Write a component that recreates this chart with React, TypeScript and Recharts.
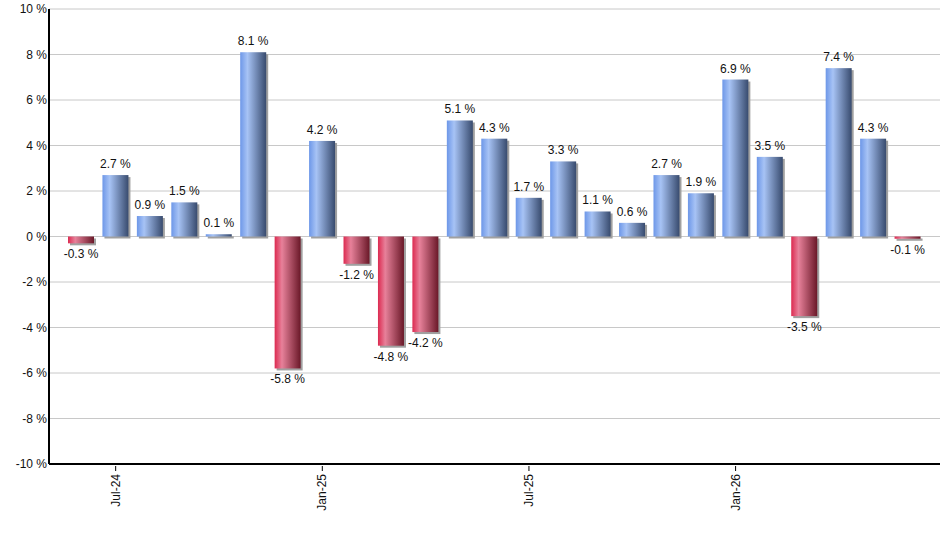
import { Bar, BarChart, CartesianGrid, LabelList, XAxis, YAxis } from 'recharts';

const months = [
    'Jun-24', 'Jul-24', 'Aug-24', 'Sep-24', 'Oct-24', 'Nov-24', 'Dec-24',
    'Jan-25', 'Feb-25', 'Mar-25', 'Apr-25', 'May-25', 'Jun-25', 'Jul-25',
    'Aug-25', 'Sep-25', 'Oct-25', 'Nov-25', 'Dec-25', 'Jan-26', 'Feb-26',
    'Mar-26', 'Apr-26', 'May-26', 'Jun-26',
];

const returns = [
    -0.3, 2.7, 0.9, 1.5, 0.1, 8.1, -5.8, 4.2, -1.2, -4.8, -4.2, 5.1, 4.3,
    1.7, 3.3, 1.1, 0.6, 2.7, 1.9, 6.9, 3.5, -3.5, 7.4, 4.3, -0.1,
];

const shownMonths = ['Jul-24', 'Jan-25', 'Jul-25', 'Jan-26'];
const yTicks = [-10, -8, -6, -4, -2, 0, 2, 4, 6, 8, 10];

const data = months.map((month, i) => ({ month, value: returns[i] }));

const FONT = 'Liberation Sans, Arial, sans-serif';
const Y_AXIS_WIDTH = 49;

function GradientBar(props: any) {
    const { x, y, width, height, value } = props;
    const top = Math.min(y, y + height);
    const h = Math.abs(height);
    const fill = value < 0 ? 'url(#redBar)' : 'url(#blueBar)';
    return (
        <g>
            <rect x={x + 2} y={top + 2} width={width} height={h} fill='#a0a0a0' />
            <rect x={x} y={top} width={width} height={h} fill={fill} />
        </g>
    );
}

function ValueLabel(props: any) {
    const { x, y, width, height, value } = props;
    const top = Math.min(y, y + height);
    const bottom = Math.max(y, y + height);
    const ty = value < 0 ? bottom + 15 : top - 7;
    return (
        <text x={x + width / 2} y={ty} textAnchor='middle' fontSize={12} fontFamily={FONT} fill='#111'>
            {`${value} %`}
        </text>
    );
}

function MonthTick(props: any) {
    const { x, y, payload } = props;
    if (!shownMonths.includes(payload.value)) return null;
    return (
        <g>
            <line x1={x} y1={y} x2={x} y2={y + 5} stroke='#000' />
            <text
                transform={`translate(${x},${y + 8}) rotate(-90)`}
                textAnchor='end'
                dy={4}
                fontSize={12}
                fontFamily={FONT}
                fill='#111'
            >
                {payload.value}
            </text>
        </g>
    );
}

function PercentTick(props: any) {
    const { y, payload } = props;
    return (
        <text x={Y_AXIS_WIDTH - 2} y={y} dy={4} textAnchor='end' fontSize={12} fontFamily={FONT} fill='#111'>
            {`${payload.value} %`}
        </text>
    );
}

export default function App() {
    return (
        <div style={{ position: 'absolute', left: 0, top: 0, background: '#fff' }}>
            <BarChart
                width={940}
                height={550}
                data={data}
                margin={{ top: 9, right: 0, bottom: 0, left: 0 }}
            >
                <defs>
                    <linearGradient id='blueBar' x1='0' y1='0' x2='1' y2='0'>
                        <stop offset='0%' stopColor='#6d97e8' />
                        <stop offset='28%' stopColor='#a7c3f5' />
                        <stop offset='100%' stopColor='#384b6e' />
                    </linearGradient>
                    <linearGradient id='redBar' x1='0' y1='0' x2='1' y2='0'>
                        <stop offset='0%' stopColor='#dc2a50' />
                        <stop offset='28%' stopColor='#e7819a' />
                        <stop offset='100%' stopColor='#6a1828' />
                    </linearGradient>
                </defs>
                <CartesianGrid vertical={false} stroke='#c8c8c8' />
                <XAxis
                    dataKey='month'
                    interval={0}
                    height={86}
                    padding={{ left: 15, right: 15 }}
                    axisLine={{ stroke: '#000', strokeWidth: 2 }}
                    tickLine={false}
                    tickSize={0}
                    tick={<MonthTick />}
                />
                <YAxis
                    domain={[-10, 10]}
                    ticks={yTicks}
                    width={Y_AXIS_WIDTH}
                    axisLine={{ stroke: '#000', strokeWidth: 2 }}
                    tickLine={false}
                    tick={<PercentTick />}
                />
                <Bar dataKey='value' barSize={26} shape={<GradientBar />} isAnimationActive={false}>
                    <LabelList dataKey='value' content={<ValueLabel />} />
                </Bar>
            </BarChart>
        </div>
    );
}
